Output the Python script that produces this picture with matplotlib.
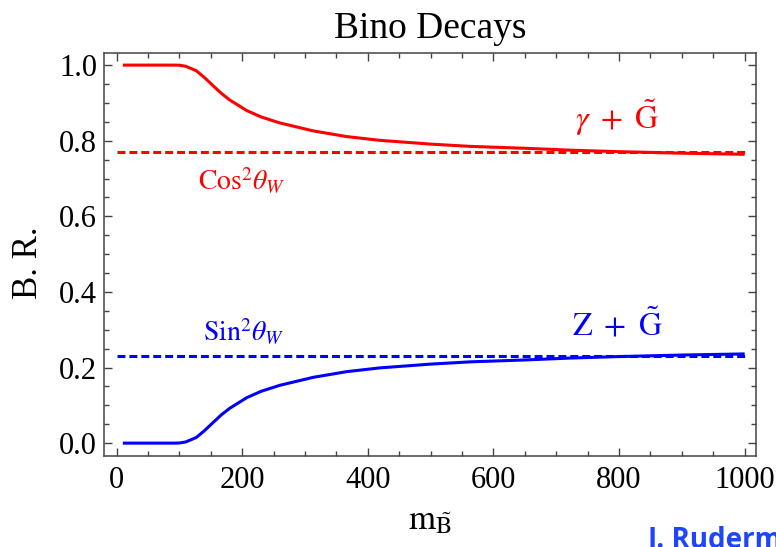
import matplotlib
matplotlib.use("Agg")
import matplotlib.pyplot as plt
from matplotlib.ticker import MultipleLocator

# Values
mass = [10, 50, 91, 100, 110, 120, 127, 140, 154, 167, 180, 207, 230, 260,
        313, 366, 419, 500, 563, 650, 722, 800, 900, 1000]
br_gamma = [1.0, 1.0, 1.0, 0.9997, 0.997, 0.990, 0.985, 0.967, 0.945, 0.925,
            0.908, 0.880, 0.863, 0.847, 0.826, 0.811, 0.801, 0.791, 0.785,
            0.780, 0.775, 0.771, 0.767, 0.764]
br_z = [0.0, 0.0, 0.0, 0.0003, 0.003, 0.010, 0.015, 0.033, 0.055, 0.075,
        0.092, 0.120, 0.137, 0.153, 0.174, 0.189, 0.199, 0.209, 0.215,
        0.220, 0.225, 0.229, 0.233, 0.236]
cos2_w = 0.769
sin2_w = 0.231
limit_x = [0, 1000]

plt.rcParams['font.family'] = ['Liberation Serif', 'DejaVu Serif']
plt.rcParams['mathtext.fontset'] = 'stix'

frame = '#444444'
fig = plt.figure(figsize=(7.76, 5.47), dpi=100)
ax = fig.add_axes([0.134, 0.1664, 0.8402, 0.7367])

ax.plot(limit_x, [cos2_w, cos2_w], color='red', lw=2.2, dashes=(2.6, 1.3))
ax.plot(limit_x, [sin2_w, sin2_w], color='blue', lw=2.2, dashes=(2.6, 1.3))
ax.plot(mass, br_gamma, color='red', lw=2.2, solid_capstyle='butt')
ax.plot(mass, br_z, color='blue', lw=2.2, solid_capstyle='butt')

ax.set_xlim(-20, 1018)
ax.set_ylim(-0.034, 1.032)

# labels on the curves
ax.text(797, 0.862, r'$\gamma\ +\ \tilde{\mathrm{G}}$', color='red',
        fontsize=23, ha='center', va='center')
ax.text(797, 0.313, r'$\mathrm{Z}\ +\ \tilde{\mathrm{G}}$', color='blue',
        fontsize=23, ha='center', va='center')
ax.text(199, 0.693, r'$\mathrm{Cos}^2\theta_W$', color='red',
        fontsize=20, ha='center', va='center')
ax.text(203, 0.294, r'$\mathrm{Sin}^2\theta_W$', color='blue',
        fontsize=20, ha='center', va='center')

ax.set_title('Bino Decays', fontsize=27, pad=11)
ax.set_ylabel('B. R.', fontsize=25)
ax.yaxis.set_label_coords(-0.09, 0.48)
ax.set_xlabel(r'$\mathrm{m}_{\tilde{\mathrm{B}}}$', fontsize=25)
ax.xaxis.set_label_coords(0.5, -0.12)

ax.xaxis.set_major_locator(MultipleLocator(200))
ax.xaxis.set_minor_locator(MultipleLocator(50))
ax.yaxis.set_major_locator(MultipleLocator(0.2))
ax.yaxis.set_minor_locator(MultipleLocator(0.05))
ax.yaxis.set_major_formatter(plt.FuncFormatter(lambda v, p: f'{v:.1f}'))

ax.tick_params(which='both', direction='in', top=True, right=True,
               color=frame, width=1.0)
ax.tick_params(which='major', length=6, labelsize=22)
ax.tick_params(which='minor', length=3.5)
ax.tick_params(axis='x', pad=7)
ax.tick_params(axis='y', pad=5)
for s in ax.spines.values():
    s.set_color(frame)
    s.set_linewidth(1.1)

fig.text(647 / 776, -1 / 547, 'J. Ruderman', color='#1f45fc', fontsize=20,
         fontweight='bold', family='Open Sans', ha='left', va='baseline')

fig.savefig('out.png', dpi=100)
